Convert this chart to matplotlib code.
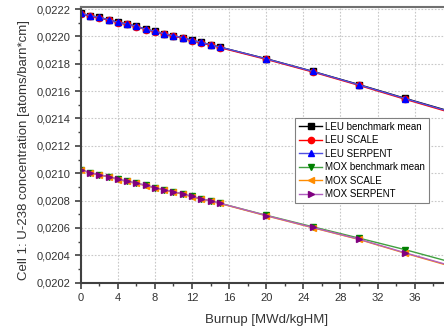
import matplotlib
matplotlib.use("Agg")
import matplotlib.pyplot as plt
from matplotlib.ticker import MultipleLocator, FixedLocator, FuncFormatter

plt.rcParams["font.family"] = ["Liberation Sans", "DejaVu Sans"]

# burnup steps [MWd/kgHM]
burnup = [0, 1, 2, 3, 4, 5, 6, 7, 8, 9, 10, 11, 12, 13, 14, 15, 20, 25, 30, 35, 40]
x_ticks = [0, 4, 8, 12, 16, 20, 24, 28, 32, 36]

# U-238 concentration [atoms/barn*cm]
leu_bench = [0.022169, 0.022151, 0.022139, 0.022122, 0.022103, 0.022090, 0.022074,
             0.022052, 0.022037, 0.022019, 0.022005, 0.021990, 0.021971, 0.021956,
             0.021939, 0.021922, 0.021837, 0.021745, 0.021648, 0.021547, 0.021449]
leu_scale = [0.022166, 0.022148, 0.022136, 0.022119, 0.022100, 0.022087, 0.022071,
             0.022049, 0.022034, 0.022016, 0.022002, 0.021987, 0.021968, 0.021952,
             0.021935, 0.021918, 0.021832, 0.021740, 0.021642, 0.021540, 0.021441]
leu_serpent = [0.022169, 0.022151, 0.022139, 0.022122, 0.022103, 0.022090, 0.022074,
               0.022052, 0.022037, 0.022019, 0.022005, 0.021990, 0.021971, 0.021956,
               0.021939, 0.021922, 0.021836, 0.021744, 0.021646, 0.021545, 0.021446]

mox_bench = [0.021025, 0.021005, 0.020988, 0.020976, 0.020956, 0.020942, 0.020927,
             0.020912, 0.020895, 0.020879, 0.020864, 0.020849, 0.020830, 0.020813,
             0.020798, 0.020781, 0.020693, 0.020609, 0.020526, 0.020441, 0.020349]
mox_scale = [0.021023, 0.021003, 0.020986, 0.020974, 0.020954, 0.020940, 0.020925,
             0.020910, 0.020893, 0.020877, 0.020862, 0.020847, 0.020828, 0.020811,
             0.020796, 0.020779, 0.020689, 0.020602, 0.020516, 0.020415, 0.020318]
mox_serpent = [0.021025, 0.021005, 0.020988, 0.020976, 0.020956, 0.020942, 0.020927,
               0.020912, 0.020895, 0.020879, 0.020864, 0.020849, 0.020830, 0.020813,
               0.020798, 0.020781, 0.020691, 0.020604, 0.020518, 0.020418, 0.020322]

series = [
    ("LEU benchmark mean", leu_bench, "#000000", "#000000", "s"),
    ("LEU SCALE", leu_scale, "#ff0000", "#ff0000", "o"),
    ("LEU SERPENT", leu_serpent, "#0000ff", "#5050e0", "^"),
    ("MOX benchmark mean", mox_bench, "#008000", "#40a040", "v"),
    ("MOX SCALE", mox_scale, "#ff8c00", "#ff8c00", "<"),
    ("MOX SERPENT", mox_serpent, "#800080", "#b060c0", ">"),
]

fig = plt.figure(figsize=(4.44, 3.35), dpi=100)
ax = fig.add_axes([0.1818, 0.1561, 0.8356, 0.8239])

for label, vals, mcol, lcol, mk in series:
    ax.plot(burnup, vals, color=lcol, lw=1.0, marker=mk, markersize=4.5,
            markerfacecolor=mcol, markeredgecolor=mcol, label=label)

ax.set_xlim(0, 40)
ax.set_ylim(0.0202, 0.022217)
ax.xaxis.set_major_locator(FixedLocator(x_ticks))
ax.xaxis.set_minor_locator(MultipleLocator(2))
ax.yaxis.set_major_locator(MultipleLocator(0.0002))
ax.yaxis.set_minor_locator(MultipleLocator(0.0001))
ax.yaxis.set_major_formatter(FuncFormatter(lambda v, p: f"{v:.4f}".replace(".", ",")))

ax.grid(True, which="major", color="#c8c8c8", linestyle=(0, (1.5, 1.5)), lw=0.8)
for sp in ax.spines.values():
    sp.set_color("#404040")
    sp.set_linewidth(1.5)
ax.spines["top"].set_color("#707070")
ax.tick_params(which="major", direction="out", length=4, width=1.2, colors="#404040",
               labelcolor="#333333", labelsize=8)
ax.tick_params(which="minor", direction="out", length=2.5, width=1.0, colors="#404040")

ax.set_xlabel("Burnup [MWd/kgHM]", fontsize=9.5, color="#333333", labelpad=8)
fig.text(0.054, 0.552, "Cell 1: U-238 concentration [atoms/barn*cm]", rotation=90,
         ha="center", va="center", fontsize=9.5, color="#333333")

leg = ax.legend(loc="upper right", bbox_to_anchor=(0.966, 0.648),
                bbox_transform=fig.transFigure, borderaxespad=0, fontsize=7,
                fancybox=False, framealpha=1, edgecolor="#808080", handlelength=2.4,
                labelspacing=0.36, borderpad=0.4, handletextpad=0.3)
leg.get_frame().set_linewidth(0.8)

fig.savefig("out.png", dpi=100)
